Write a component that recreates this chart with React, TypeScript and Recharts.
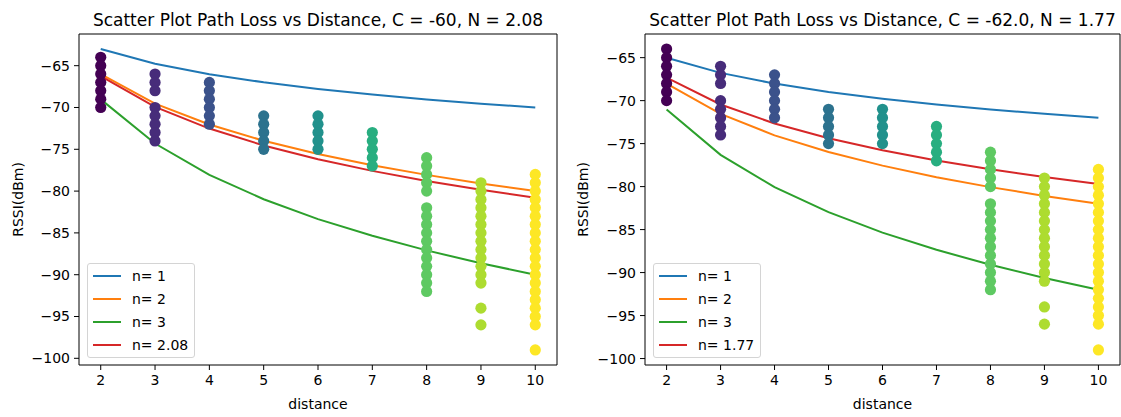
import { ComposedChart, Line, Scatter, XAxis, YAxis, ReferenceArea } from "recharts";

// distances on the x axis
const distances = [2, 3, 4, 5, 6, 7, 8, 9, 10];

// measured RSSI samples at each distance (same data in both panels)
const rssiAt2 = [-64, -65, -66, -67, -68, -69, -70];
const rssiAt3 = [-66, -67, -68, -70, -71, -72, -73, -74];
const rssiAt4 = [-67, -68, -69, -70, -71, -72];
const rssiAt5 = [-71, -72, -73, -74, -75];
const rssiAt6 = [-71, -72, -73, -74, -75];
const rssiAt7 = [-73, -74, -75, -76, -77];
const rssiAt8 = [-76, -77, -78, -79, -80, -82, -83, -84, -85, -86, -87, -88, -89, -90, -91, -92];
const rssiAt9 = [-79, -80, -81, -82, -83, -84, -85, -86, -87, -88, -89, -90, -91, -94, -96];
const rssiAt10 = [-78, -79, -80, -81, -82, -83, -84, -85, -86, -87, -88, -89, -90, -91, -92, -93, -94, -95, -96, -99];
const samples = [rssiAt2, rssiAt3, rssiAt4, rssiAt5, rssiAt6, rssiAt7, rssiAt8, rssiAt9, rssiAt10];

// viridis colour per distance
const viridis = ["#440154", "#472c7a", "#3b528b", "#2c728e", "#21918c", "#28ae80", "#5ec962", "#addc30", "#fde725"];

// left panel, C = -60
const leftN1 = [-63.01, -64.77, -66.02, -66.99, -67.78, -68.45, -69.03, -69.54, -70.0];
const leftN2 = [-66.02, -69.54, -72.04, -73.98, -75.56, -76.9, -78.06, -79.08, -80.0];
const leftN3 = [-69.03, -74.31, -78.06, -80.97, -83.35, -85.35, -87.09, -88.63, -90.0];
const leftNfit = [-66.26, -69.92, -72.52, -74.54, -76.19, -77.58, -78.78, -79.85, -80.8];

// right panel, C = -62
const rightN1 = [-65.01, -66.77, -68.02, -68.99, -69.78, -70.45, -71.03, -71.54, -72.0];
const rightN2 = [-68.02, -71.54, -74.04, -75.98, -77.56, -78.9, -80.06, -81.08, -82.0];
const rightN3 = [-71.03, -76.31, -80.06, -82.97, -85.35, -87.35, -89.09, -90.63, -92.0];
const rightNfit = [-67.33, -70.45, -72.66, -74.37, -75.77, -76.96, -77.98, -78.89, -79.7];

const yTicks = [-65, -70, -75, -80, -85, -90, -95, -100];

const FONT = "DejaVu Sans";
const FS = 14;
const lineColors = ["#1f77b4", "#ff7f0e", "#2ca02c", "#d62728"];

const minus = (v: number) => String(v).replace("-", "\u2212");

type PanelProps = {
  left: number;
  width: number;
  yAxisWidth: number;
  rightMargin: number;
  labelOffset: number;
  title: string;
  yDomain: [number, number];
  n1: number[];
  n2: number[];
  n3: number[];
  nfit: number[];
  fitLabel: string;
};

const Panel = (p: PanelProps) => {
  const rows = distances.map((d, i) => ({
    d,
    n1: p.n1[i],
    n2: p.n2[i],
    n3: p.n3[i],
    nfit: p.nfit[i],
  }));
  const plotRight = p.width - p.rightMargin;
  const legendItems = [
    { label: "n= 1", color: lineColors[0] },
    { label: "n= 2", color: lineColors[1] },
    { label: "n= 3", color: lineColors[2] },
    { label: p.fitLabel, color: lineColors[3] },
  ];
  return (
    <div style={{ position: "absolute", left: p.left, top: 0, width: p.width, height: 417 }}>
      <div
        style={{
          position: "absolute",
          left: p.yAxisWidth - 40,
          width: plotRight - p.yAxisWidth + 80,
          top: 12,
          textAlign: "center",
          fontFamily: FONT,
          fontSize: 17,
          lineHeight: "17px",
          color: "#000",
          whiteSpace: "nowrap",
        }}
      >
        {p.title}
      </div>
      <ComposedChart
        width={p.width}
        height={417}
        data={rows}
        margin={{ top: 34, right: p.rightMargin, bottom: 0, left: 0 }}
        style={{ fontFamily: FONT }}
      >
        <XAxis
          dataKey="d"
          type="number"
          domain={[1.6, 10.4]}
          ticks={distances}
          height={52}
          axisLine={false}
          tickSize={5}
          tickMargin={5}
          tickLine={{ stroke: "#000" }}
          tick={{ fill: "#000", fontSize: FS }}
          allowDataOverflow
          label={{ value: "distance", position: "insideBottom", offset: 8, fill: "#000", fontSize: FS }}
        />
        <YAxis
          type="number"
          domain={p.yDomain}
          ticks={yTicks}
          width={p.yAxisWidth}
          axisLine={false}
          tickSize={5}
          tickMargin={4}
          tickLine={{ stroke: "#000" }}
          tick={{ fill: "#000", fontSize: FS }}
          tickFormatter={minus}
          allowDataOverflow
          label={{
            value: "RSSI(dBm)",
            angle: -90,
            position: "insideLeft",
            offset: p.labelOffset,
            fill: "#000",
            fontSize: FS,
            style: { textAnchor: "middle" },
          }}
        />
        {samples.map((vals, i) => (
          <Scatter
            key={"s" + i}
            data={vals.map((v) => ({ d: distances[i], rssi: v }))}
            dataKey="rssi"
            fill={viridis[i]}
            isAnimationActive={false}
            shape={(s: any) => <circle cx={s.cx} cy={s.cy} r={5.6} fill={viridis[i]} />}
          />
        ))}
        <Line dataKey="n1" stroke={lineColors[0]} strokeWidth={2} dot={false} isAnimationActive={false} />
        <Line dataKey="n2" stroke={lineColors[1]} strokeWidth={2} dot={false} isAnimationActive={false} />
        <Line dataKey="n3" stroke={lineColors[2]} strokeWidth={2} dot={false} isAnimationActive={false} />
        <Line dataKey="nfit" stroke={lineColors[3]} strokeWidth={2} dot={false} isAnimationActive={false} />
        <ReferenceArea
          x1={1.6}
          x2={10.4}
          y1={p.yDomain[0]}
          y2={p.yDomain[1]}
          fill="none"
          fillOpacity={0}
          stroke="#000"
          strokeWidth={1}
          ifOverflow="visible"
        />
      </ComposedChart>
      <div
        style={{
          position: "absolute",
          left: p.yAxisWidth + 8,
          top: 263,
          width: 108,
          height: 95,
          boxSizing: "border-box",
          border: "1px solid #d4d4d4",
          borderRadius: 3,
          background: "rgba(255,255,255,0.8)",
          fontFamily: FONT,
          fontSize: FS,
          color: "#000",
        }}
      >
        {legendItems.map((it) => (
          <div key={it.label} style={{ display: "flex", alignItems: "center", height: 23 }}>
            <div style={{ marginLeft: 5, width: 28, height: 2, background: it.color }} />
            <span style={{ marginLeft: 11, whiteSpace: "nowrap" }}>{it.label}</span>
          </div>
        ))}
      </div>
    </div>
  );
};

export default function App() {
  return (
    <div style={{ position: "absolute", left: 0, top: 0, width: 1121, height: 417, background: "#fff" }}>
      <Panel
        left={0}
        width={560}
        yAxisWidth={79}
        rightMargin={3}
        labelOffset={18}
        title="Scatter Plot Path Loss vs Distance, C = -60, N = 2.08"
        yDomain={[-100.8, -61.21]}
        n1={leftN1}
        n2={leftN2}
        n3={leftN3}
        nfit={leftNfit}
        fitLabel="n= 2.08"
      />
      <Panel
        left={560}
        width={561}
        yAxisWidth={85}
        rightMargin={1}
        labelOffset={23}
        title="Scatter Plot Path Loss vs Distance, C = -62.0, N = 1.77"
        yDomain={[-100.75, -62.25]}
        n1={rightN1}
        n2={rightN2}
        n3={rightN3}
        nfit={rightNfit}
        fitLabel="n= 1.77"
      />
    </div>
  );
}
